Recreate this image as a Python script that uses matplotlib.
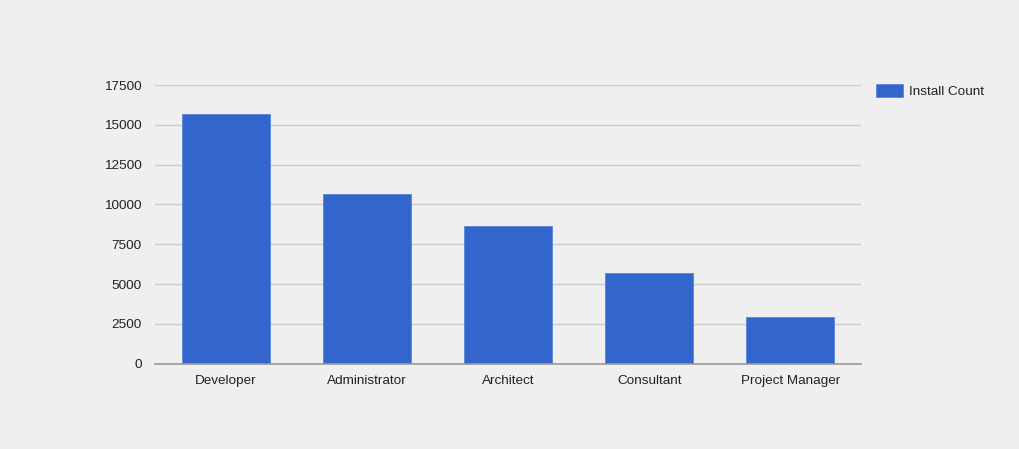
import matplotlib.pyplot as plt
import numpy as np

plt.rcParams['font.family'] = ['Liberation Sans', 'DejaVu Sans']

categories = ['Developer', 'Administrator', 'Architect', 'Consultant', 'Project Manager']
install_count = [15680, 10640, 8660, 5680, 2950]
y_ticks = [0, 2500, 5000, 7500, 10000, 12500, 15000, 17500]

bg = '#efefef'
fig = plt.figure(figsize=(10.19, 4.49), dpi=100, facecolor=bg)
ax = fig.add_axes([155/1019, 1 - 363.7/449, 706/1019, 278.7/449], facecolor=bg)

x = np.arange(len(categories))
ax.bar(x, install_count, width=0.623, color='#3366cc', edgecolor='#5a85d9',
       linewidth=0.6, label='Install Count', zorder=3)

ax.set_xlim(-0.5, len(categories) - 0.5)
ax.set_ylim(0, 17500)
ax.set_yticks(y_ticks)
ax.set_yticklabels([str(v) for v in y_ticks])
ax.set_xticks(x)
ax.set_xticklabels(categories)
ax.tick_params(length=0, labelsize=9.7, colors='#222222')
ax.tick_params(axis='y', pad=9.5)
ax.tick_params(axis='x', pad=8)

ax.grid(axis='y', color='#cccccc', linewidth=1, zorder=0)
for s in ['top', 'right', 'left']:
    ax.spines[s].set_visible(False)
ax.spines['bottom'].set_color('#999999')
ax.spines['bottom'].set_linewidth(1.2)
ax.spines['bottom'].set_zorder(4)

leg = fig.legend(loc='upper left', bbox_to_anchor=(871/1019, 1 - 79/449),
                 frameon=False, fontsize=9.7, handlelength=2.0, handleheight=1.1,
                 handletextpad=0.45, borderaxespad=0)
for t in leg.get_texts():
    t.set_color('#222222')

fig.savefig('out.png', dpi=100, facecolor=bg)
